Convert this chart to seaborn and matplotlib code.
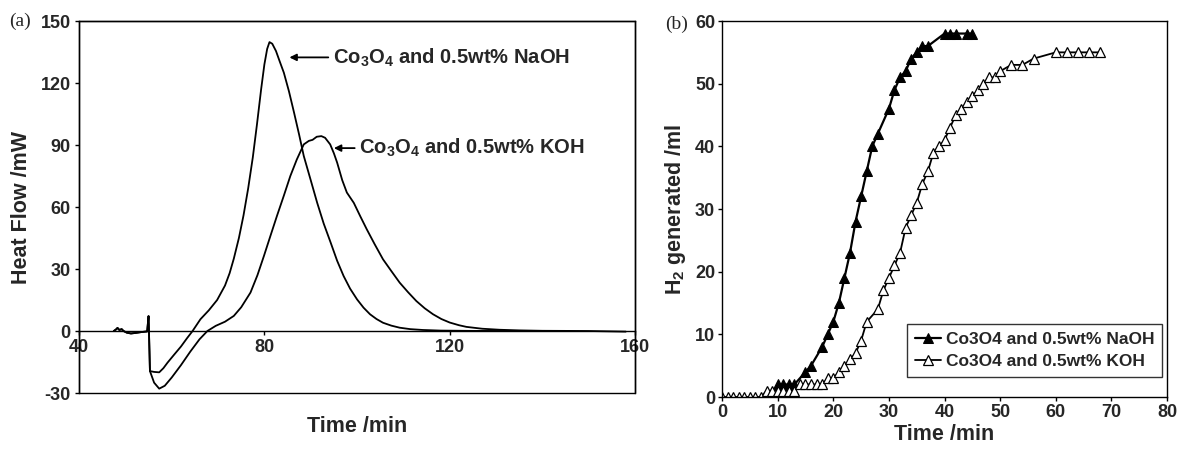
import numpy as np
import pandas as pd
import seaborn as sns
import matplotlib.pyplot as plt
from matplotlib.patches import Rectangle

# ---- panel (a): heat flow (DSC) curves ----
# shared baseline before the event (same for both samples)
base_t = [47.5, 48.0, 48.3, 48.7, 49.2, 49.6, 50.3, 51.2, 52.3, 53.5, 54.7, 55.0, 55.2]
base_v = [0.0, 0.8, 1.5, 0.5, 0.9, 0.0, -0.8, -1.2, -0.9, -0.5, -0.2, 7.2, -10.0]

naoh_t = [55.3, 56.2, 57.3, 58.2, 59.1, 60.5, 62.0, 63.3, 64.5, 66.2, 68.0, 69.8, 71.5,
          72.5, 73.4, 74.5, 75.5, 76.5, 77.5, 78.4, 79.3, 80.0, 80.6, 81.1, 81.7, 82.5,
          83.3, 84.2, 85.3, 86.4, 87.5, 88.5, 90.0, 91.4, 92.8, 94.3, 95.7, 97.1, 98.5,
          100.0, 101.4, 102.8, 104.2, 105.6, 107.4, 109.2, 111.5, 114.2, 118.0, 125.0,
          137.0]
naoh_v = [-19.4, -19.8, -20.0, -18.0, -15.3, -11.5, -7.5, -3.5, 0.0, 5.7, 10.0, 15.0, 22.0,
          28.0, 35.0, 45.0, 56.0, 69.0, 84.0, 100.0, 117.0, 129.0, 136.5, 139.8, 139.0,
          135.5, 130.5, 125.0, 116.0, 105.7, 95.0, 84.7, 73.0, 62.0, 52.0, 42.8, 34.0,
          26.6, 20.5, 15.3, 11.3, 8.1, 5.8, 4.0, 2.6, 1.6, 0.9, 0.5, 0.2, 0.05, 0.0]

koh_t = [55.3, 56.2, 57.3, 58.5, 60.0, 62.0, 64.0, 66.0, 67.7, 69.5, 71.5, 73.4, 75.0,
         77.0, 78.5, 79.9, 81.3, 82.7, 84.2, 85.6, 87.0, 88.5, 89.6, 90.4, 91.3, 92.3,
         93.1, 94.2, 95.0, 95.7, 96.8, 97.8, 99.3, 100.7, 102.1, 103.8, 105.6, 107.4,
         109.2, 111.0, 112.8, 114.6, 116.4, 118.2, 120.0, 122.0, 123.6, 127.0, 130.8,
         135.0, 140.0, 150.0, 158.0]
koh_v = [-19.4, -25.0, -27.9, -26.5, -22.5, -16.5, -10.0, -4.0, 0.0, 2.5, 4.5, 7.3, 11.5,
         18.6, 27.0, 36.3, 46.0, 55.6, 65.5, 75.0, 83.0, 90.3, 92.0, 92.5, 94.0, 94.3,
         93.5, 90.3, 86.0, 81.5, 73.0, 67.0, 62.0, 55.5, 49.2, 42.0, 34.7, 29.0, 23.4,
         18.8, 14.5, 11.0, 8.1, 5.8, 4.1, 2.8, 2.0, 1.1, 0.6, 0.3, 0.1, 0.0, -0.3]

# ---- panel (b): H2 generated ----
h_naoh_t = [10, 11, 12, 13, 15, 16, 18, 19, 20, 21, 22, 23, 24, 25, 26, 27, 28, 30, 31,
            32, 33, 34, 35, 36, 37, 40, 41, 42, 44, 45]
h_naoh_v = [2, 2, 2, 2, 4, 5, 8, 10, 12, 15, 19, 23, 28, 32, 36, 40, 42, 46, 49, 51, 52,
            54, 55, 56, 56, 58, 58, 58, 58, 58]

h_koh_t = [0, 1, 2, 3, 4, 5, 6, 7, 8, 9, 10, 11, 12, 13, 14, 15, 16, 17, 18, 19, 20, 21,
           22, 23, 24, 25, 26, 28, 29, 30, 31, 32, 33, 34, 35, 36, 37, 38, 39, 40, 41, 42,
           43, 44, 45, 46, 47, 48, 49, 50, 52, 54, 56, 60, 62, 64, 66, 68]
h_koh_v = [0, 0, 0, 0, 0, 0, 0, 0, 1, 1, 1, 1, 1, 1, 2, 2, 2, 2, 2, 3, 3, 4, 5, 6, 7, 9,
           12, 14, 17, 19, 21, 23, 27, 29, 31, 34, 36, 39, 40, 41, 43, 45, 46, 47, 48, 49,
           50, 51, 51, 52, 53, 53, 54, 55, 55, 55, 55, 55]

label_naoh = 'Co3O4 and 0.5wt% NaOH'
label_koh = 'Co3O4 and 0.5wt% KOH'

sns.set_style('white')
plt.rcParams['font.family'] = ['Liberation Sans', 'DejaVu Sans']
plt.rcParams['font.weight'] = 'bold'
plt.rcParams['axes.labelweight'] = 'bold'
plt.rcParams['axes.unicode_minus'] = False
plt.rcParams['mathtext.fontset'] = 'custom'
plt.rcParams['mathtext.rm'] = 'Liberation Sans:bold'
plt.rcParams['mathtext.it'] = 'Liberation Sans:bold'
plt.rcParams['mathtext.bf'] = 'Liberation Sans:bold'

fig = plt.figure(figsize=(11.87, 4.51), dpi=100)
ax1 = fig.add_axes([0.0666, 0.1286, 0.4684, 0.8248])
ax2 = fig.add_axes([0.6083, 0.1197, 0.3749, 0.8337])

# panel (a)
df_a = pd.concat([
    pd.DataFrame({'t': base_t + naoh_t, 'v': base_v + naoh_v, 's': 'NaOH'}),
    pd.DataFrame({'t': base_t + koh_t, 'v': base_v + koh_v, 's': 'KOH'}),
])
for name, sub in df_a.groupby('s'):
    sns.lineplot(data=sub, x='t', y='v', ax=ax1, color='black', lw=1.3,
                 sort=False, estimator=None, legend=False)

ax1.set_xlim(40, 160)
ax1.set_ylim(-30, 150)
ax1.set_xticks([40, 80, 120, 160])
ax1.set_yticks(np.arange(-30, 151, 30))
ax1.spines['bottom'].set_position(('data', 0))
for sp in ax1.spines.values():
    sp.set_color('black')
    sp.set_linewidth(1.0)
ax1.add_patch(Rectangle((0, 0), 1, 1, transform=ax1.transAxes, fill=False,
                        ec='black', lw=1.0, clip_on=False))
ax1.tick_params(axis='both', direction='out', length=3, width=1, color='black',
                labelsize=13, pad=3, left=True, bottom=True)
ax1.set_xlabel('Time /min', fontsize=15.5, fontweight='bold')
ax1.xaxis.set_label_coords(0.5, -0.062)
ax1.set_ylabel('Heat Flow /mW', fontsize=15.5, fontweight='bold', labelpad=6)

ax1.annotate('Co$_3$O$_4$ and 0.5wt% NaOH', xy=(85.4, 132.4), xytext=(94.8, 132.4),
             fontsize=14.5, fontweight='bold', va='center', ha='left',
             arrowprops=dict(arrowstyle='-|>', color='black', lw=1.3, mutation_scale=10,
                             shrinkA=1, shrinkB=0))
ax1.annotate('Co$_3$O$_4$ and 0.5wt% KOH', xy=(95.0, 88.5), xytext=(100.5, 88.5),
             fontsize=14.5, fontweight='bold', va='center', ha='left',
             arrowprops=dict(arrowstyle='-|>', color='black', lw=1.3, mutation_scale=10,
                             shrinkA=1, shrinkB=0))
fig.text(0.008, 0.952, '(a)', fontsize=14, family='Liberation Serif',
         fontweight='normal', va='center')

# panel (b)
df_b = pd.concat([
    pd.DataFrame({'t': h_naoh_t, 'v': h_naoh_v, 's': label_naoh}),
    pd.DataFrame({'t': h_koh_t, 'v': h_koh_v, 's': label_koh}),
])
sns.lineplot(data=df_b[df_b['s'] == label_naoh], x='t', y='v', ax=ax2, color='black',
             lw=1.6, marker='^', markersize=7, markerfacecolor='black',
             markeredgecolor='black', label=label_naoh, sort=False, estimator=None)
sns.lineplot(data=df_b[df_b['s'] == label_koh], x='t', y='v', ax=ax2, color='black',
             lw=1.3, marker='^', markersize=7, markerfacecolor='white',
             markeredgecolor='black', markeredgewidth=0.9, label=label_koh,
             sort=False, estimator=None)
ax2.set_xlim(0, 80)
ax2.set_ylim(0, 60)
ax2.set_xticks(np.arange(0, 81, 10))
ax2.set_yticks(np.arange(0, 61, 10))
for sp in ax2.spines.values():
    sp.set_color('black')
    sp.set_linewidth(1.0)
ax2.tick_params(axis='both', direction='out', length=3, width=1, color='black',
                labelsize=13, pad=2, left=True, bottom=True)
ax2.set_xlabel('Time /min', fontsize=15.5, fontweight='bold', labelpad=2)
ax2.set_ylabel('H$_2$ generated /ml', fontsize=15.5, fontweight='bold', labelpad=5)
for a in (ax1, ax2):
    for lab in a.get_xticklabels() + a.get_yticklabels():
        lab.set_fontweight('bold')
leg = ax2.legend(loc='lower right', bbox_to_anchor=(0.989, 0.053), fontsize=12.5,
                 frameon=True, fancybox=False, edgecolor='black', handlelength=1.5,
                 handletextpad=0.3, borderpad=0.45, labelspacing=0.4, borderaxespad=0)
leg.get_frame().set_linewidth(1.0)
fig.text(0.560, 0.945, '(b)', fontsize=14, family='Liberation Serif',
         fontweight='normal', va='center')

fig.savefig('out.png', dpi=100)
